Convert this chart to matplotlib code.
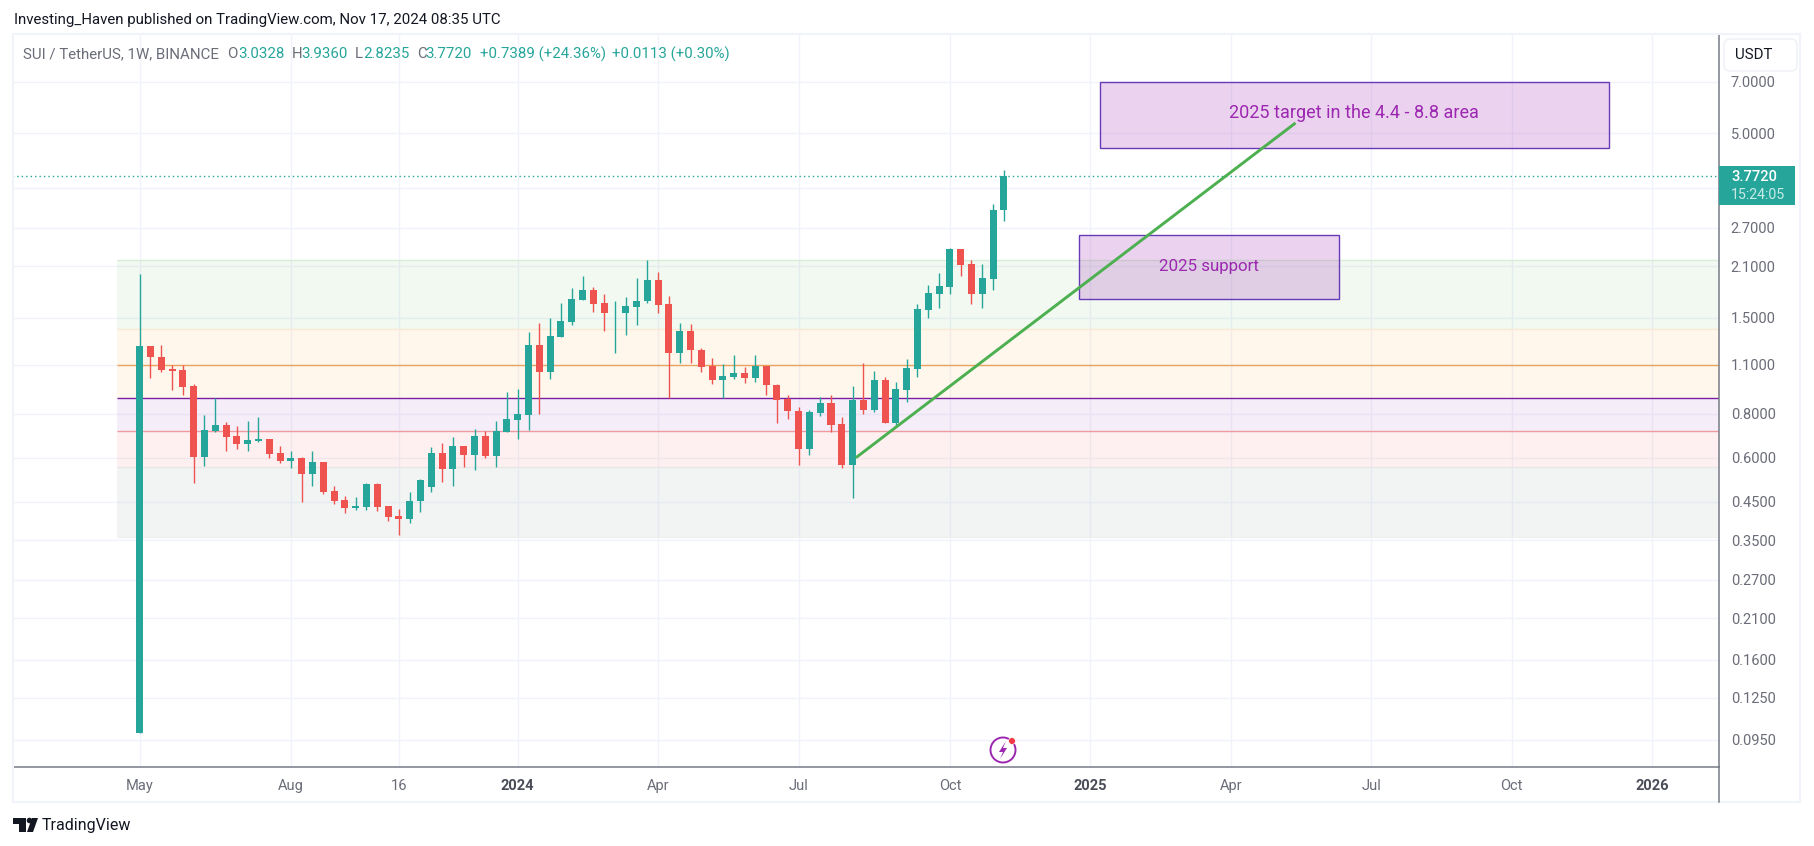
import datetime as dt
import matplotlib
matplotlib.use("Agg")
import matplotlib.pyplot as plt
import matplotlib.dates as mdates
from matplotlib.patches import Rectangle, Polygon, FancyBboxPatch, Ellipse
from matplotlib.lines import Line2D

plt.rcParams['font.family'] = ['Roboto', 'DejaVu Sans']

# Weekly candles from 2023-05-01
start_date = dt.date(2023, 5, 1)
opens = [.0993,1.245,1.159,1.071,1.064,.959,.6027,.7144,.743,.6915,.6562,.6692,.678,.6188,.5871,.5988,.5394,.5833,
         .4827,.4551,.4319,.4347,.5053,.4376,.41,.402,.4521,.4955,.6188,.5573,.6477,.6107,.6915,.6067,.7098,.7677,
         .793,1.253,1.05,1.3206,1.457,1.682,1.795,1.65,1.5445,1.5445,1.606,1.671,1.9165,1.639,1.19,1.373,1.213,
         1.092,.997,1.0165,1.043,1.01,1.092,.965,.8807,.8142,.635,.8035,.8579,.7475,.572,.875,.8195,.997,.7528,
         .934,1.071,1.575,1.749,1.8305,2.347,2.128,1.749,1.929,3.0328]
highs = [1.993,1.245,1.253,1.097,1.097,.971,.793,.8846,.7577,.7382,.7627,.7829,.678,.6477,.6269,.6027,.6269,.5833,
         .4988,.4672,.4641,.5086,.5086,.4376,.4291,.4796,.522,.6435,.6605,.687,.6477,.7238,.7144,.7627,.9218,.9401,
         1.364,1.4475,1.4955,1.65,1.8187,1.967,1.8305,1.749,1.671,1.715,1.9416,2.184,2.019,1.7266,1.4475,1.438,1.229,
         1.151,1.107,1.1737,1.085,1.1737,1.092,.971,.904,.8357,.8195,.8922,.904,.7829,.959,1.1145,1.057,1.0165,.984,
         1.1434,1.639,1.855,2.006,2.362,2.347,2.184,2.128,3.149,3.936]
lows = [.0993,1.01,1.05,.934,.904,.5086,.5684,.7098,.6269,.635,.6269,.6648,.5988,.5795,.561,.4492,.4988,.4734,
        .4434,.418,.4263,.4263,.4235,.3962,.362,.3916,.4207,.4796,.5119,.4988,.5647,.5537,.5988,.5647,.7098,.678,
        .7191,.7984,1.0035,1.3206,1.4285,1.682,1.555,1.373,1.19,1.3375,1.4285,1.65,1.5445,.8846,1.1145,1.1145,1.05,
        .971,.8846,1.0035,.978,.984,.904,.7528,.7727,.572,.6107,.7881,.7098,.561,.4611,.7984,.8089,.7528,.7382,
        .8636,1.0165,1.4955,1.596,1.749,1.967,1.639,1.596,1.795,2.8235]
closes = [1.245,1.159,1.064,1.057,.9525,.6027,.7191,.743,.687,.6562,.6736,.678,.6147,.5871,.5988,.5394,.5833,.4796,
          .4521,.4319,.4376,.5053,.4347,.4073,.402,.4521,.5187,.6188,.5573,.6477,.6107,.6915,.6067,.7144,.7727,.7984,
          1.253,1.05,1.329,1.466,1.693,1.795,1.639,1.5445,1.548,1.617,1.671,1.9165,1.628,1.19,1.373,1.213,1.085,
          .997,1.0234,1.043,1.01,1.092,.965,.875,.8142,.635,.8089,.8579,.743,.572,.875,.8195,.997,.7528,.9401,
          1.078,1.585,1.76,1.843,2.347,2.114,1.749,1.9416,3.0328,3.772]

y_ticks = [.095,.125,.16,.21,.27,.35,.45,.6,.8,1.1,1.5,2.1,2.7,3.5,5.0,7.0]
y_labels = ["0.0950","0.1250","0.1600","0.2100","0.2700","0.3500","0.4500","0.6000","0.8000","1.1000",
            "1.5000","2.1000","2.7000","","5.0000","7.0000"]
x_dates = [dt.date(2023,5,1),dt.date(2023,8,7),dt.date(2023,10,16),dt.date(2024,1,1),dt.date(2024,4,1),
           dt.date(2024,7,1),dt.date(2024,10,7),dt.date(2025,1,6),dt.date(2025,4,7),dt.date(2025,7,7),
           dt.date(2025,10,6),dt.date(2026,1,5)]
x_labels = ["May","Aug","16","2024","Apr","Jul","Oct","2025","Apr","Jul","Oct","2026"]
x_bold = ["2024","2025","2026"]

zone_edges = [2.184,1.388,.8846,.7144,.5647,.3581]
zone_colors = ["#4caf50","#ff9800","#7b1fa2","#f44336","#5d7575"]
level_values = [2.184,1.388,1.097,.8846,.7144,.5647,.3581]
level_colors = ["#d8edd8","#fbe8d2","#e8a35f","#7b1fa2","#ef9a9f","#e6e8e8","#eff1f1"]
last_close = 3.772

W, H = 1814, 846
GREEN, RED = "#26a69a", "#ef5350"
fig = plt.figure(figsize=(W/100, H/100), dpi=100, facecolor="white")
L, R, T, B = 13, 1719, 35, 767
ax = fig.add_axes([L/W, 1-B/H, (R-L)/W, (B-T)/H])
ax.set_yscale("log")
t0 = mdates.date2num(start_date)
def wk(n):
    return t0 + 7*n
dates = [wk(i) for i in range(len(opens))]

ax.set_xlim(wk(-11.72), wk(146.2))
ax.set_ylim(0.0795, 9.505)

# grid
ax.set_yticks(y_ticks, y_labels)
ax.yaxis.set_minor_locator(matplotlib.ticker.NullLocator())
ax.yaxis.tick_right()
ax.set_xticks([mdates.date2num(d) for d in x_dates], x_labels)
ax.tick_params(axis="both", length=0, labelsize=10.5, labelcolor="#6a6d78")
ax.tick_params(axis="y", pad=8.5)
ax.tick_params(axis="x", pad=8.5)
for lab in ax.get_xticklabels():
    if lab.get_text() in x_bold:
        lab.set_fontweight("bold"); lab.set_color("#4a4d58")
ax.grid(True, color="#f0f3fa", lw=1.0, zorder=0)
ax.set_axisbelow(True)
for s in ("top", "left"):
    ax.spines[s].set_visible(False)
for s in ("right", "bottom"):
    ax.spines[s].set_color("#787b86"); ax.spines[s].set_linewidth(1.1)

# zones
x0, x1 = wk(-2.1), wk(146.2)
for i, c in enumerate(zone_colors):
    ax.add_patch(Rectangle((x0, zone_edges[i+1]), x1-x0, zone_edges[i]-zone_edges[i+1],
                           fc=c, alpha=0.075, ec="none", zorder=1))
for v, c in zip(level_values, level_colors):
    ax.plot([x0, x1], [v, v], color=c, lw=1.0, zorder=1.5, solid_capstyle="butt")

# candles
cols = [GREEN if c >= o else RED for o, c in zip(opens, closes)]
ax.vlines(dates, lows, highs, colors=cols, lw=1.0, zorder=3)
ax.bar(dates, [abs(c-o) for o, c in zip(opens, closes)], bottom=[min(o, c) for o, c in zip(opens, closes)],
       width=4.55, color=cols, lw=0, zorder=4)
ax.plot([x0-1000, x1], [last_close, last_close], ls=(0, (1, 2.2)), color=GREEN, lw=1.0, zorder=2)

# drawings
for xa, xb, ya, yb in [(wk(88.9), wk(136.0), 4.54, 7.0), (wk(87.0), wk(111.05), 1.698, 2.572)]:
    ax.add_patch(Rectangle((xa, ya), xb-xa, yb-ya, fc="#9c27b0", alpha=0.2, ec="none", zorder=5))
    ax.add_patch(Rectangle((xa, ya), xb-xa, yb-ya, fc="none", ec="#673ab7", lw=1.0, zorder=5.5))
ax.plot([wk(66.3), wk(107)], [.60, 5.35], color="#4caf50", lw=2.1, zorder=6, solid_capstyle="butt")
ax.text(wk(112.45), 5.7, "2025 target in the 4.4 - 8.8 area", color="#9c27b0", fontsize=13,
        ha="center", va="center", zorder=7)
ax.text(wk(99.0), 2.1, "2025 support", color="#9c27b0", fontsize=12.2, ha="center", va="center", zorder=7)

# figure-level decoration
def X(x): return x/W
def Y(y): return 1-y/H
def ftext(x, y, s, **k):
    k.setdefault("va", "center"); k.setdefault("fontsize", 10.5)
    return fig.text(X(x), Y(y), s, **k)
tf = fig.transFigure
fig.add_artist(Rectangle((X(13), Y(802)), X(1800-13), (802-34)/H, fc="none", ec="#f0f3fa", lw=1.5, transform=tf))
fig.add_artist(Line2D([X(R), X(R)], [Y(767), Y(802)], color="#787b86", lw=1.1, transform=tf))

ftext(13.5, 20, "Investing_Haven published on TradingView.com, Nov 17, 2024 08:35 UTC", color="#131722", fontsize=10.8)
for x, s, c in [(23, "SUI / TetherUS, 1W, BINANCE", "#6a6d78"), (227, "O", "#6a6d78"), (238, "3.0328", GREEN),
                (292, "H", "#6a6d78"), (301.5, "3.9360", GREEN), (355, "L", "#6a6d78"), (363.5, "2.8235", GREEN),
                (417, "C", "#6a6d78"), (425.6, "3.7720", GREEN), (480, "+0.7389 (+24.36%)", GREEN),
                (612, "+0.0113 (+0.30%)", GREEN)]:
    ftext(x, 54, s, color=c, fontsize=10.8)

# price tag
fig.add_artist(Rectangle((X(R), Y(205)), 76/W, 39/H, fc=GREEN, ec="none", transform=tf, zorder=10))
ftext(1731, 177, "3.7720", color="white", fontweight="medium", zorder=11)
ftext(1731, 195, "15:24:05", color="#c8ebe7", zorder=11, fontsize=10.2)

# currency button
fig.add_artist(FancyBboxPatch((1724, H-71), 73, 32, boxstyle="round,pad=0,rounding_size=6",
                              fc="white", ec="#eef0f5", lw=1.0, transform=None, zorder=10))
ftext(1735, 55, "USDT", color="#131722", zorder=11, fontsize=10.8)

# lightning icon
def px_circle(x, y, r, **k):
    return Ellipse((X(x), Y(y)), 2*r/W, 2*r/H, transform=tf, **k)
fig.add_artist(px_circle(1003, 750, 12.5, fc="white", ec="#9c27b0", lw=1.4, zorder=10))
fig.add_artist(Polygon([(X(a), Y(b)) for a, b in [(1006, 741), (999, 752), (1003, 752), (1000, 759), (1007, 748), (1003, 748)]],
                       closed=True, fc="#9c27b0", ec="none", transform=tf, zorder=11))
fig.add_artist(px_circle(1012, 741, 3.4, fc="#f23645", ec="white", lw=0.5, zorder=12))

# TradingView logo
c = "#131722"
fig.add_artist(Polygon([(X(a), Y(b)) for a, b in [(13, 818), (26, 818), (26, 832), (19, 832), (19, 824), (13, 824)]],
                       closed=True, fc=c, ec="none", transform=tf))
fig.add_artist(px_circle(29.5, 820.5, 2.8, fc=c, ec="none"))
fig.add_artist(Polygon([(X(a), Y(b)) for a, b in [(32, 818), (38, 818), (33, 832), (27, 832)]],
                       closed=True, fc=c, ec="none", transform=tf))
ftext(42, 825, "TradingView", color=c, fontsize=11.5)

fig.savefig("out.png", dpi=100)
